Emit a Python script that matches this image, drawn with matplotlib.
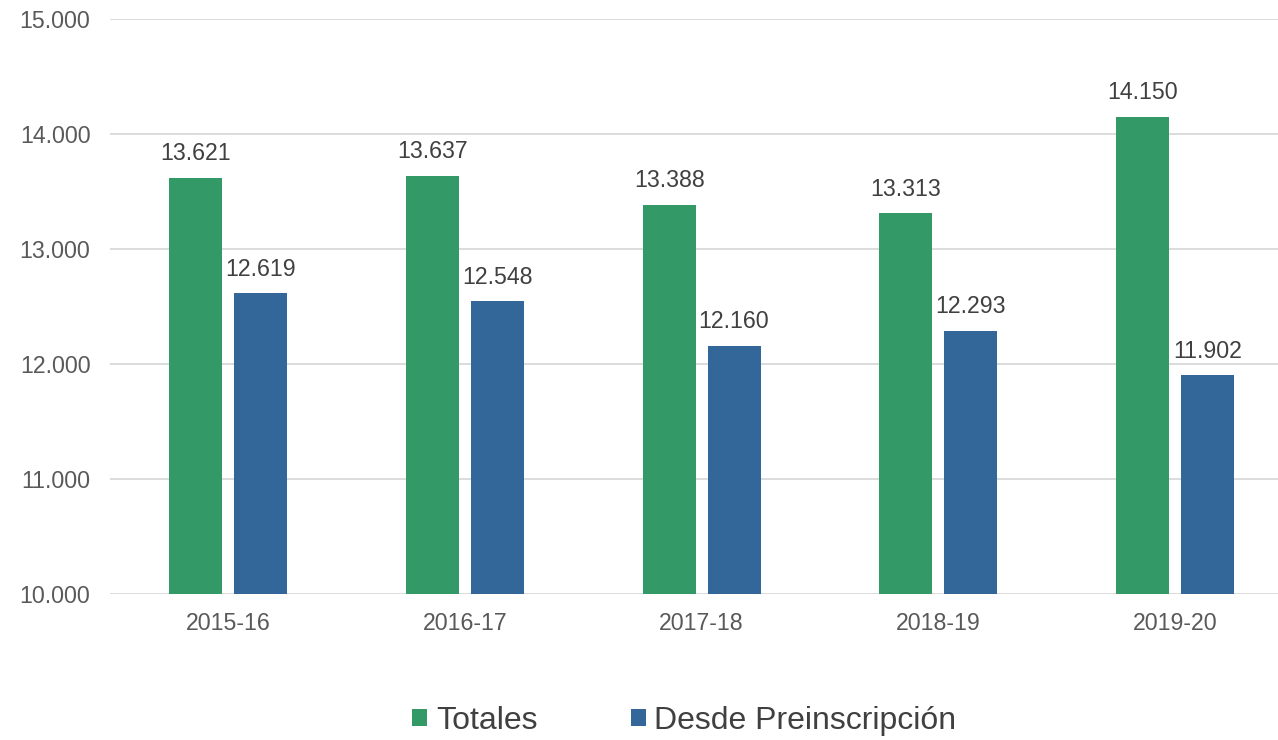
import matplotlib.pyplot as plt
import numpy as np

plt.rcParams['font.family'] = ['Liberation Sans', 'DejaVu Sans']

cursos = ["2015-16", "2016-17", "2017-18", "2018-19", "2019-20"]
totales = [13621, 13637, 13388, 13313, 14150]
preinscripcion = [12619, 12548, 12160, 12293, 11902]

verde = "#339966"
azul = "#336699"


def fmt(v):
    return f"{v:,.0f}".replace(",", ".")


fig = plt.figure(figsize=(12.78, 7.4), dpi=100)
# plot area runs a little past the right edge, as in the original
ax = fig.add_axes([0.086, 0.197, 0.926, 0.777])

x = np.arange(len(cursos))
w = 0.224
off = 0.137
b1 = ax.bar(x - off, totales, w, color=verde, label="Totales", zorder=3)
b2 = ax.bar(x + off, preinscripcion, w, color=azul, label="Desde Preinscripción", zorder=3)

for bars, vals in [(b1, totales), (b2, preinscripcion)]:
    for rect, v in zip(bars, vals):
        ax.annotate(fmt(v), (rect.get_x() + rect.get_width() / 2, v),
                    xytext=(0, 9), textcoords="offset points",
                    ha="center", va="bottom", fontsize=16.7, color="#404040")

ax.set_ylim(10000, 15000)
ax.set_xlim(-0.5, len(cursos) - 0.5)
ax.set_yticks(range(10000, 15001, 1000))
ax.set_yticklabels([fmt(t) for t in range(10000, 15001, 1000)])
ax.set_xticks(x)
ax.set_xticklabels(cursos)
ax.tick_params(axis="both", length=0, labelsize=16.7, colors="#595959")
ax.tick_params(axis="y", pad=14)
ax.tick_params(axis="x", pad=13)
ax.grid(axis="y", color="#d9d9d9", linewidth=1.3, zorder=0)
for s in ax.spines.values():
    s.set_visible(False)

fig.legend(loc="center", bbox_to_anchor=(0.5356, 0.026), ncol=2, frameon=False,
           fontsize=23, handlelength=0.47, handleheight=0.47, handletextpad=0.28,
           columnspacing=2.9, labelcolor="#404040")

fig.savefig("out.png", dpi=100)
